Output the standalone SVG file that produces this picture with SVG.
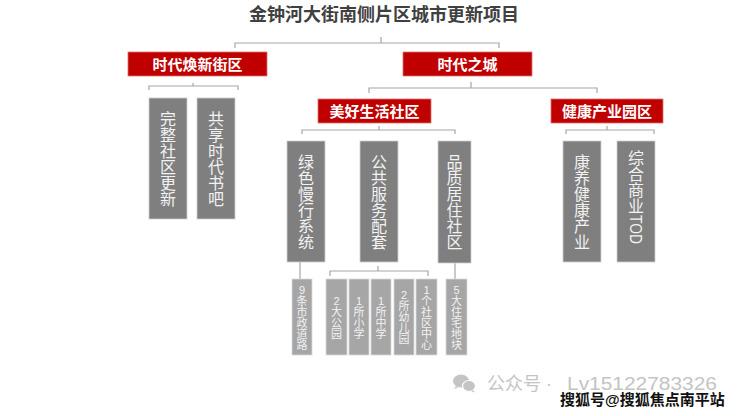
<svg xmlns="http://www.w3.org/2000/svg" width="740" height="416" viewBox="0 0 740 416">
<style>
text{font-family:"Liberation Sans","Noto Sans CJK SC",sans-serif}
.title{font-size:18px;font-weight:bold;fill:#404040;text-anchor:middle}
.red{fill:#c00000;stroke:#e07070;stroke-width:0.8}
.rt{font-size:15px;font-weight:bold;fill:#ffffff;text-anchor:middle}
.gb{fill:#7f7f7f;stroke:#cfcfcf;stroke-width:0.8}
.gt{font-size:16px;fill:#f2f2f2;text-anchor:middle}
.sb{fill:#a6a6a6;stroke:#d9d9d9;stroke-width:0.8}
.st{font-size:11px;fill:#f2f2f2;text-anchor:middle}
.ln{fill:none;stroke:#a6a6a6;stroke-width:1.2}
.wm{font-size:18px;fill:#c4c4c4}
.wm2{font-size:15px;font-weight:bold;fill:#111;stroke:#fff;stroke-width:2;paint-order:stroke}
</style>
<rect width="740" height="416" fill="#ffffff"/>
<text class="title" x="384" y="21">金钟河大街南侧片区城市更新项目</text>

<g id="connectors">
<path class="ln" d="M235,48 V43 H499 V48 M381,37 V43"/>
<path class="ln" d="M149,90 V86 H238 V90 M193,83 V86"/>
<path class="ln" d="M369,93 V88 H597 V93 M471,82 V88"/>
<path class="ln" d="M302,134 V130 H455 V134 M379,126 V130"/>
<path class="ln" d="M566,134 V130 H654 V134 M607,126 V130"/>
<path class="ln" d="M300,262 V279"/>
<path class="ln" d="M330,276 V271 H428 V276 M378,266 V271"/>
<path class="ln" d="M455,263 V279"/>
</g>

<g id="n-shidaihuanxin">
<rect class="red" x="128" y="52" width="139" height="24"/>
<text class="rt" x="197.5" y="69.5">时代焕新街区</text>
</g>
<g id="n-shidaizhicheng">
<rect class="red" x="403" y="52" width="129" height="24"/>
<text class="rt" x="467.5" y="69.5">时代之城</text>
</g>
<g id="n-meihao">
<rect class="red" x="318" y="99" width="113" height="24"/>
<text class="rt" x="374.5" y="116.5">美好生活社区</text>
</g>
<g id="n-jiankang">
<rect class="red" x="551" y="99" width="112" height="24"/>
<text class="rt" x="607" y="116.5">健康产业园区</text>
</g>

<g id="n-wanzheng">
<rect class="gb" x="149" y="98" width="38" height="121"/>
<text class="gt"><tspan x="168" y="124.5">完</tspan><tspan x="168" y="140.5">整</tspan><tspan x="168" y="156.5">社</tspan><tspan x="168" y="172.5">区</tspan><tspan x="168" y="188.5">更</tspan><tspan x="168" y="204.5">新</tspan></text>
</g>
<g id="n-gongxiang">
<rect class="gb" x="197" y="98" width="38" height="121"/>
<text class="gt"><tspan x="216" y="124.5">共</tspan><tspan x="216" y="140.5">享</tspan><tspan x="216" y="156.5">时</tspan><tspan x="216" y="172.5">代</tspan><tspan x="216" y="188.5">书</tspan><tspan x="216" y="204.5">吧</tspan></text>
</g>
<g id="n-lvse">
<rect class="gb" x="287" y="141" width="38" height="121"/>
<text class="gt"><tspan x="306" y="167.5">绿</tspan><tspan x="306" y="183.5">色</tspan><tspan x="306" y="199.5">慢</tspan><tspan x="306" y="215.5">行</tspan><tspan x="306" y="231.5">系</tspan><tspan x="306" y="247.5">统</tspan></text>
</g>
<g id="n-gonggong">
<rect class="gb" x="360" y="141" width="38" height="121"/>
<text class="gt"><tspan x="379" y="167.5">公</tspan><tspan x="379" y="183.5">共</tspan><tspan x="379" y="199.5">服</tspan><tspan x="379" y="215.5">务</tspan><tspan x="379" y="231.5">配</tspan><tspan x="379" y="247.5">套</tspan></text>
</g>
<g id="n-pinzhi">
<rect class="gb" x="438" y="141" width="33" height="122"/>
<text class="gt"><tspan x="454.5" y="168">品</tspan><tspan x="454.5" y="184">质</tspan><tspan x="454.5" y="200">居</tspan><tspan x="454.5" y="216">住</tspan><tspan x="454.5" y="232">社</tspan><tspan x="454.5" y="248">区</tspan></text>
</g>
<g id="n-kangyang">
<rect class="gb" x="563" y="141" width="38" height="121"/>
<text class="gt"><tspan x="582" y="167.5">康</tspan><tspan x="582" y="183.5">养</tspan><tspan x="582" y="199.5">健</tspan><tspan x="582" y="215.5">康</tspan><tspan x="582" y="231.5">产</tspan><tspan x="582" y="247.5">业</tspan></text>
</g>
<g id="n-zonghe">
<rect class="gb" x="617" y="141" width="38" height="121"/>
<text class="gt"><tspan x="636" y="163.5">综</tspan><tspan x="636" y="179.5">合</tspan><tspan x="636" y="195.5">商</tspan><tspan x="636" y="211.5">业</tspan></text>
<text class="gt" style="text-anchor:start" transform="translate(636,215) rotate(90)" x="0" y="5.6" textLength="29" lengthAdjust="spacingAndGlyphs">TOD</text>
</g>

<g id="n-9tiao">
<rect class="sb" x="292" y="279" width="20" height="76"/>
<text class="st"><tspan x="302" y="293.5">9</tspan><tspan x="302" y="304.5">条</tspan><tspan x="302" y="315.5">市</tspan><tspan x="302" y="326.5">政</tspan><tspan x="302" y="337.5">道</tspan><tspan x="302" y="348.5">路</tspan></text>
</g>
<g id="n-2gongyuan">
<rect class="sb" x="326" y="279" width="21" height="76"/>
<text class="st"><tspan x="336.5" y="304.5">2</tspan><tspan x="336.5" y="315.5">大</tspan><tspan x="336.5" y="326.5">公</tspan><tspan x="336.5" y="337.5">园</tspan></text>
</g>
<g id="n-1xiaoxue">
<rect class="sb" x="349" y="279" width="20" height="76"/>
<text class="st"><tspan x="359" y="304.5">1</tspan><tspan x="359" y="315.5">所</tspan><tspan x="359" y="326.5">小</tspan><tspan x="359" y="337.5">学</tspan></text>
</g>
<g id="n-1zhongxue">
<rect class="sb" x="371" y="279" width="20" height="76"/>
<text class="st"><tspan x="381" y="304.5">1</tspan><tspan x="381" y="315.5">所</tspan><tspan x="381" y="326.5">中</tspan><tspan x="381" y="337.5">学</tspan></text>
</g>
<g id="n-2youeryuan">
<rect class="sb" x="394" y="279" width="20" height="76"/>
<text class="st"><tspan x="404" y="299">2</tspan><tspan x="404" y="310">所</tspan><tspan x="404" y="321">幼</tspan><tspan x="404" y="332">儿</tspan><tspan x="404" y="343">园</tspan></text>
</g>
<g id="n-1shequ">
<rect class="sb" x="416" y="279" width="21" height="76"/>
<text class="st"><tspan x="426.5" y="293.5">1</tspan><tspan x="426.5" y="304.5">个</tspan><tspan x="426.5" y="315.5">社</tspan><tspan x="426.5" y="326.5">区</tspan><tspan x="426.5" y="337.5">中</tspan><tspan x="426.5" y="348.5">心</tspan></text>
</g>
<g id="n-5zhuzhai">
<rect class="sb" x="446" y="279" width="21" height="76"/>
<text class="st"><tspan x="456.5" y="293.5">5</tspan><tspan x="456.5" y="304.5">大</tspan><tspan x="456.5" y="315.5">住</tspan><tspan x="456.5" y="326.5">宅</tspan><tspan x="456.5" y="337.5">地</tspan><tspan x="456.5" y="348.5">块</tspan></text>
</g>

<g id="watermark">
<ellipse cx="461" cy="381" rx="8" ry="6.5" fill="#c4c4c4"/>
<path d="M456,386 l-2,3 l4,-1.5 z" fill="#c4c4c4"/>
<ellipse cx="469" cy="386" rx="6.5" ry="5.5" fill="#c4c4c4" stroke="#ffffff" stroke-width="1.2"/>
<path d="M473,390 l2,2.5 l-3.5,-1 z" fill="#c4c4c4"/>
<text class="wm" x="487" y="390">公众号 ·</text>
<text class="wm" x="567" y="390" textLength="150" lengthAdjust="spacingAndGlyphs">Lv15122783326</text>
<text class="wm2" x="560" y="405">搜狐号@搜狐焦点南平站</text>
</g>
</svg>
